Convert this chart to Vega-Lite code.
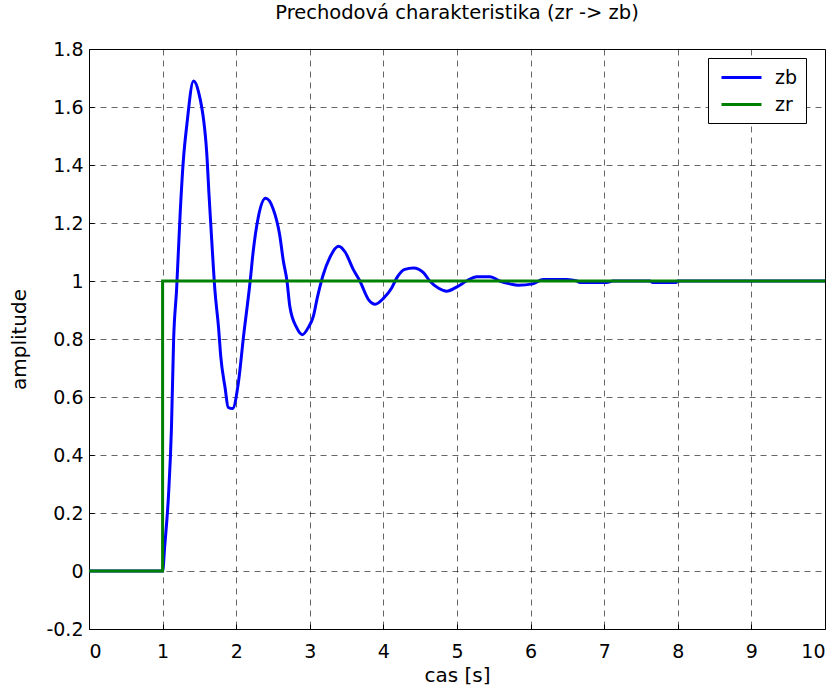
{
  "$schema": "https://vega.github.io/schema/vega-lite/v6.json",
  "width": 736,
  "height": 580,
  "autosize": {"type": "none"},
  "padding": {"left": 89, "top": 49, "right": 14, "bottom": 62},
  "background": "white",
  "config": {
    "font": "DejaVu Sans",
    "view": {"stroke": "black", "strokeWidth": 1},
    "axis": {
      "labelFont": "DejaVu Sans",
      "titleFont": "DejaVu Sans",
      "labelFontSize": 19,
      "titleFontSize": 20,
      "titleFontWeight": "normal",
      "labelColor": "black",
      "titleColor": "black",
      "domainColor": "black",
      "tickColor": "black",
      "gridColor": "#000000",
      "gridOpacity": 0.6,
      "gridDash": [6, 5],
      "gridWidth": 1
    }
  },
  "title": {
    "text": "Prechodová charakteristika (zr -> zb)",
    "font": "DejaVu Sans",
    "fontSize": 19.5,
    "fontWeight": "normal",
    "color": "black",
    "anchor": "middle",
    "offset": 17
  },
  "data": {
    "values": [
      {"t": 0, "y": 0, "s": "zb", "o": 0},
      {"t": 1.0, "y": 0, "s": "zb", "o": 1},
      {"t": 1.03, "y": 0.09, "s": "zb", "o": 2},
      {"t": 1.08, "y": 0.26, "s": "zb", "o": 3},
      {"t": 1.12, "y": 0.49, "s": "zb", "o": 4},
      {"t": 1.15, "y": 0.8, "s": "zb", "o": 5},
      {"t": 1.19, "y": 0.97, "s": "zb", "o": 6},
      {"t": 1.24, "y": 1.24, "s": "zb", "o": 7},
      {"t": 1.28, "y": 1.41, "s": "zb", "o": 8},
      {"t": 1.33, "y": 1.54, "s": "zb", "o": 9},
      {"t": 1.42, "y": 1.69, "s": "zb", "o": 10},
      {"t": 1.49, "y": 1.65, "s": "zb", "o": 11},
      {"t": 1.6, "y": 1.44, "s": "zb", "o": 12},
      {"t": 1.63, "y": 1.3, "s": "zb", "o": 13},
      {"t": 1.67, "y": 1.13, "s": "zb", "o": 14},
      {"t": 1.71, "y": 0.97, "s": "zb", "o": 15},
      {"t": 1.76, "y": 0.84, "s": "zb", "o": 16},
      {"t": 1.79, "y": 0.74, "s": "zb", "o": 17},
      {"t": 1.85, "y": 0.63, "s": "zb", "o": 18},
      {"t": 1.89, "y": 0.565, "s": "zb", "o": 19},
      {"t": 1.95, "y": 0.56, "s": "zb", "o": 20},
      {"t": 2.03, "y": 0.65, "s": "zb", "o": 21},
      {"t": 2.1, "y": 0.81, "s": "zb", "o": 22},
      {"t": 2.19, "y": 1.0, "s": "zb", "o": 23},
      {"t": 2.23, "y": 1.1, "s": "zb", "o": 24},
      {"t": 2.3, "y": 1.22, "s": "zb", "o": 25},
      {"t": 2.4, "y": 1.285, "s": "zb", "o": 26},
      {"t": 2.5, "y": 1.25, "s": "zb", "o": 27},
      {"t": 2.59, "y": 1.16, "s": "zb", "o": 28},
      {"t": 2.64, "y": 1.07, "s": "zb", "o": 29},
      {"t": 2.69, "y": 1.0, "s": "zb", "o": 30},
      {"t": 2.73, "y": 0.91, "s": "zb", "o": 31},
      {"t": 2.82, "y": 0.84, "s": "zb", "o": 32},
      {"t": 2.9, "y": 0.815, "s": "zb", "o": 33},
      {"t": 2.98, "y": 0.84, "s": "zb", "o": 34},
      {"t": 3.05, "y": 0.88, "s": "zb", "o": 35},
      {"t": 3.1, "y": 0.94, "s": "zb", "o": 36},
      {"t": 3.18, "y": 1.02, "s": "zb", "o": 37},
      {"t": 3.27, "y": 1.08, "s": "zb", "o": 38},
      {"t": 3.39, "y": 1.12, "s": "zb", "o": 39},
      {"t": 3.48, "y": 1.1, "s": "zb", "o": 40},
      {"t": 3.59, "y": 1.04, "s": "zb", "o": 41},
      {"t": 3.68, "y": 1.0, "s": "zb", "o": 42},
      {"t": 3.8, "y": 0.935, "s": "zb", "o": 43},
      {"t": 3.89, "y": 0.92, "s": "zb", "o": 44},
      {"t": 4.0, "y": 0.94, "s": "zb", "o": 45},
      {"t": 4.11, "y": 0.975, "s": "zb", "o": 46},
      {"t": 4.18, "y": 1.01, "s": "zb", "o": 47},
      {"t": 4.29, "y": 1.04, "s": "zb", "o": 48},
      {"t": 4.41, "y": 1.045, "s": "zb", "o": 49},
      {"t": 4.54, "y": 1.03, "s": "zb", "o": 50},
      {"t": 4.63, "y": 1.0, "s": "zb", "o": 51},
      {"t": 4.75, "y": 0.975, "s": "zb", "o": 52},
      {"t": 4.86, "y": 0.965, "s": "zb", "o": 53},
      {"t": 5.0, "y": 0.98, "s": "zb", "o": 54},
      {"t": 5.13, "y": 1.0, "s": "zb", "o": 55},
      {"t": 5.27, "y": 1.015, "s": "zb", "o": 56},
      {"t": 5.45, "y": 1.015, "s": "zb", "o": 57},
      {"t": 5.58, "y": 1.0, "s": "zb", "o": 58},
      {"t": 5.72, "y": 0.99, "s": "zb", "o": 59},
      {"t": 5.83, "y": 0.985, "s": "zb", "o": 60},
      {"t": 6.03, "y": 0.99, "s": "zb", "o": 61},
      {"t": 6.17, "y": 1.005, "s": "zb", "o": 62},
      {"t": 6.49, "y": 1.005, "s": "zb", "o": 63},
      {"t": 6.63, "y": 1.0, "s": "zb", "o": 64},
      {"t": 6.67, "y": 0.995, "s": "zb", "o": 65},
      {"t": 7.03, "y": 0.995, "s": "zb", "o": 66},
      {"t": 7.12, "y": 1.0, "s": "zb", "o": 67},
      {"t": 7.62, "y": 1.0, "s": "zb", "o": 68},
      {"t": 7.66, "y": 0.995, "s": "zb", "o": 69},
      {"t": 7.98, "y": 0.995, "s": "zb", "o": 70},
      {"t": 8.0, "y": 1.0, "s": "zb", "o": 71},
      {"t": 10.0, "y": 1.0, "s": "zb", "o": 72},
      {"t": 0, "y": 0, "s": "zr", "o": 0},
      {"t": 1, "y": 0, "s": "zr", "o": 1},
      {"t": 1, "y": 1, "s": "zr", "o": 2},
      {"t": 10, "y": 1, "s": "zr", "o": 3}
    ]
  },
  "encoding": {
    "x": {
      "field": "t", "type": "quantitative",
      "scale": {"domain": [0, 10], "nice": false, "zero": false},
      "axis": {"title": "cas [s]", "values": [0,1,2,3,4,5,6,7,8,9,10], "tickSize": -5, "labelPadding": 18, "titlePadding": 4, "grid": true}
    },
    "y": {
      "field": "y", "type": "quantitative",
      "scale": {"domain": [-0.2, 1.8], "nice": false, "zero": false},
      "axis": {"title": "amplitude", "values": [-0.2,0,0.2,0.4,0.6,0.8,1,1.2,1.4,1.6,1.8], "labelExpr": "datum.value + ''", "tickSize": -5, "labelPadding": 11, "titlePadding": 16, "grid": true}
    },
    "color": {
      "field": "s", "type": "nominal",
      "scale": {"domain": ["zb", "zr"], "range": ["#0000ff", "#008000"]},
      "legend": {
        "title": null,
        "orient": "none",
        "legendX": 619,
        "legendY": 9,
        "fillColor": "white",
        "strokeColor": "black",
        "padding": 8,
        "symbolType": "M-2,0H2",
        "symbolSize": 400,
        "symbolOffset": 14,
        "symbolStrokeWidth": 3,
        "symbolFillColor": "transparent",
        "labelFontSize": 19,
        "labelFont": "DejaVu Sans",
        "labelColor": "black",
        "labelOffset": 22,
        "rowPadding": 5
      }
    },
    "order": {"field": "o", "type": "quantitative"}
  },
  "layer": [
    {
      "transform": [{"filter": "datum.s === 'zb'"}],
      "mark": {"type": "line", "strokeWidth": 3, "clip": true, "interpolate": "monotone"}
    },
    {
      "transform": [{"filter": "datum.s === 'zr'"}],
      "mark": {"type": "line", "strokeWidth": 3, "clip": true}
    }
  ]
}
